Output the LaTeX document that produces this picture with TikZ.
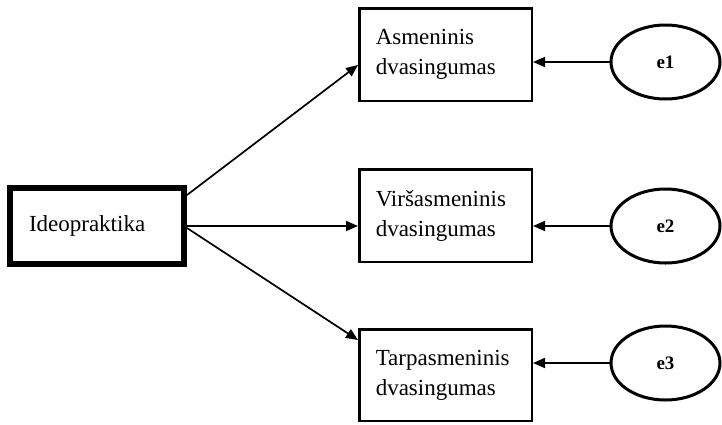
\documentclass[tikz,border=0pt]{standalone}
\usepackage{fontspec}
\setmainfont{Liberation Serif}
\usepackage{tikz}
\usetikzlibrary{arrows.meta,shapes.geometric}
\pgfdeclarelayer{bg}
\pgfsetlayers{bg,main}
\tikzset{
    every node/.style={draw, inner sep=0mm, font=\fontsize{23}{30}\selectfont}
}
\tikzset{box/.style={rectangle, line width=2.5pt, minimum width=172.5pt, minimum height=92.5pt, inner xsep=16.5pt, text width=139.5pt, align=left}}
\tikzset{err/.style={ellipse, line width=3pt, minimum width=109pt, minimum height=74pt, font=\fontsize{19}{22}\selectfont\bfseries}}
\tikzset{arr/.style={line width=1.7pt, -{Triangle[length=12pt,width=10pt]}}}

\begin{document}
\begin{tikzpicture}[x=1pt, y=-1pt]
        \useasboundingbox (0,0) rectangle (722,424);
        \node (v0) [rectangle, line width=6pt, minimum width=174pt, minimum height=76pt, inner xsep=19pt, text width=136pt, align=left] at (97, 226) {Ideopraktika};
        \node (v1) [box] at (445.5, 54.5) {Asmeninis\\dvasingumas};
        \node (v2) [box] at (445.5, 215.5) {Viršasmeninis\\dvasingumas};
        \node (v3) [box, minimum height=91.5pt] at (445.5, 375) {Tarpasmeninis\\dvasingumas};
        \node (e1) [err] at (665.5, 62) {e1};
        \node (e2) [err] at (665.5, 226) {e2};
        \node (e3) [err] at (665.5, 363) {e3};
        \begin{pgfonlayer}{bg}
                \draw ([yshift=31pt]v0.east) edge [arr] ([yshift=-10.5pt]v1.west);
                \draw (v0.east) edge [arr] ([yshift=-10.5pt]v2.west);
                \draw ([yshift=-2pt]v0.east) edge [arr] ([yshift=35pt]v3.west);
                \draw (e1) edge [arr] (e1 -| v1.east);
                \draw (e2) edge [arr] (e2 -| v2.east);
                \draw (e3) edge [arr] (e3 -| v3.east);
        \end{pgfonlayer}
\end{tikzpicture}
\end{document}
